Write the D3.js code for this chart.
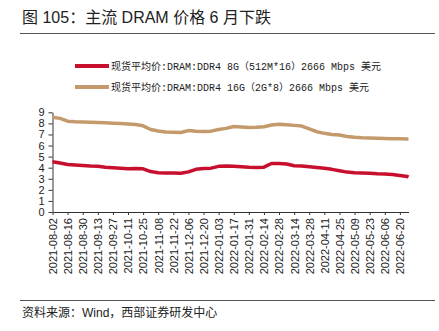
<!DOCTYPE html>
<html>
<head>
<meta charset="utf-8">
<script src="https://cdn.jsdelivr.net/npm/d3@7"></script>
<style>
  html, body { margin: 0; padding: 0; background: #fff; }
  svg { display: block; }
</style>
</head>
<body>
<svg id="chart" width="439" height="331"></svg>
<script>
// Weekly observations (Mondays) plus the final quote date
const dates = [
  "2021-08-02","2021-08-09","2021-08-16","2021-08-23","2021-08-30","2021-09-06","2021-09-13","2021-09-20",
  "2021-09-27","2021-10-04","2021-10-11","2021-10-18","2021-10-25","2021-11-01","2021-11-08","2021-11-15",
  "2021-11-22","2021-11-29","2021-12-06","2021-12-13","2021-12-20","2021-12-27","2022-01-03","2022-01-10",
  "2022-01-17","2022-01-24","2022-01-31","2022-02-07","2022-02-14","2022-02-21","2022-02-28","2022-03-07",
  "2022-03-14","2022-03-21","2022-03-28","2022-04-04","2022-04-11","2022-04-18","2022-04-25","2022-05-02",
  "2022-05-09","2022-05-16","2022-05-23","2022-05-30","2022-06-06","2022-06-13","2022-06-20","2022-06-27",
  "2022-06-28"
];

// DDR4 8G (512M*16) 2666 Mbps spot average price, USD
const ddr4_8g = [
  4.54,4.42,4.28,4.24,4.20,4.15,4.12,4.05,
  4.00,3.95,3.90,3.92,3.90,3.65,3.55,3.52,
  3.52,3.50,3.62,3.85,3.92,3.96,4.12,4.15,
  4.12,4.08,4.03,4.02,4.05,4.38,4.38,4.33,
  4.18,4.15,4.08,4.02,3.95,3.85,3.72,3.60,
  3.55,3.52,3.50,3.45,3.42,3.38,3.30,3.20,
  3.15
];

// DDR4 16G (2G*8) 2666 Mbps spot average price, USD
const ddr4_16g = [
  8.55,8.45,8.20,8.15,8.12,8.10,8.08,8.05,
  8.02,7.98,7.95,7.90,7.78,7.45,7.32,7.22,
  7.20,7.18,7.35,7.30,7.27,7.30,7.45,7.55,
  7.72,7.68,7.63,7.65,7.70,7.85,7.92,7.88,
  7.82,7.76,7.50,7.25,7.10,7.00,6.95,6.82,
  6.75,6.70,6.68,6.66,6.64,6.62,6.61,6.60,
  6.60
];

const xTickDates = [
  "2021-08-02","2021-08-16","2021-08-30","2021-09-13","2021-09-27","2021-10-11","2021-10-25","2021-11-08",
  "2021-11-22","2021-12-06","2021-12-20","2022-01-03","2022-01-17","2022-01-31","2022-02-14","2022-02-28",
  "2022-03-14","2022-03-28","2022-04-11","2022-04-25","2022-05-09","2022-05-23","2022-06-06","2022-06-20"
];
const yTicks = [0,1,2,3,4,5,6,7,8,9];

const seriesNames = [
  "现货平均价:DRAM:DDR4 8G（512M*16）2666 Mbps 美元",
  "现货平均价:DRAM:DDR4 16G（2G*8）2666 Mbps 美元"
];
const seriesColors = ["#c8102e", "#c49a6c"];

const titleText = "图 105：主流 DRAM 价格 6 月下跌";
const sourceText = "资料来源：Wind，西部证券研发中心";

const parse = d3.timeParse("%Y-%m-%d");
const fmt = d3.timeFormat("%Y-%m-%d");
const dateObjs = dates.map(parse);

const svg = d3.select("#chart");
const sansFont = "'Liberation Sans', Arial, 'Noto Sans CJK SC', sans-serif";
const legendFont = "'Liberation Mono', 'DejaVu Sans Mono', 'Noto Sans CJK SC', monospace";

svg.append("rect").attr("width", 439).attr("height", 331).attr("fill", "#fff");

// Title and rules
svg.append("text")
  .attr("x", 22).attr("y", 23)
  .attr("font-family", sansFont).attr("font-size", 16).attr("fill", "#222")
  .text(titleText);
svg.append("line").attr("x1", 20).attr("x2", 435).attr("y1", 33.5).attr("y2", 33.5)
  .attr("stroke", "#555").attr("stroke-width", 1);
svg.append("line").attr("x1", 20).attr("x2", 435).attr("y1", 300.5).attr("y2", 300.5)
  .attr("stroke", "#555").attr("stroke-width", 1);
svg.append("text")
  .attr("x", 22).attr("y", 317)
  .attr("font-family", sansFont).attr("font-size", 12).attr("fill", "#222")
  .text(sourceText);

// Scales
const x = d3.scaleTime()
  .domain([dateObjs[0], dateObjs[dateObjs.length - 1]])
  .range([52.5, 408.5]);
const y = d3.scaleLinear().domain([0, 9]).range([212, 112.3]);

// Legend
const legend = svg.append("g");
seriesNames.forEach((name, i) => {
  const ly = 66 + i * 21;
  legend.append("line")
    .attr("x1", 75).attr("x2", 109).attr("y1", ly).attr("y2", ly)
    .attr("stroke", seriesColors[i]).attr("stroke-width", 4);
  legend.append("text")
    .attr("x", 111).attr("y", ly).attr("dy", "0.35em")
    .attr("font-family", legendFont).attr("font-size", 10).attr("fill", "#222")
    .text(name);
});

// Y axis
const yAxis = svg.append("g")
  .attr("transform", "translate(52.5,0)")
  .call(d3.axisLeft(y).tickValues(yTicks).tickSize(4).tickSizeOuter(0).tickPadding(4));
yAxis.selectAll("text").attr("font-family", sansFont).attr("font-size", 11).attr("fill", "#222");
yAxis.selectAll("line, path").attr("stroke", "#333");

// X axis
const xAxis = svg.append("g")
  .attr("transform", "translate(0,212)")
  .call(d3.axisBottom(x).tickValues(xTickDates.map(parse)).tickFormat(fmt)
    .tickSize(3).tickSizeOuter(0));
xAxis.selectAll("line, path").attr("stroke", "#333");
xAxis.selectAll("text")
  .attr("font-family", sansFont).attr("font-size", 11).attr("fill", "#222")
  .attr("text-anchor", "end")
  .attr("transform", "rotate(-90)")
  .attr("x", -6).attr("y", 0).attr("dy", "0.35em");

// Lines
const line = d3.line()
  .x((d, i) => x(dateObjs[i]))
  .y(d => y(d))
  .curve(d3.curveLinear);

[ddr4_16g, ddr4_8g].forEach((vals, k) => {
  svg.append("path")
    .datum(vals)
    .attr("fill", "none")
    .attr("stroke", k === 0 ? seriesColors[1] : seriesColors[0])
    .attr("stroke-width", 3.5)
    .attr("stroke-linejoin", "round")
    .attr("d", line);
});
</script>
</body>
</html>
